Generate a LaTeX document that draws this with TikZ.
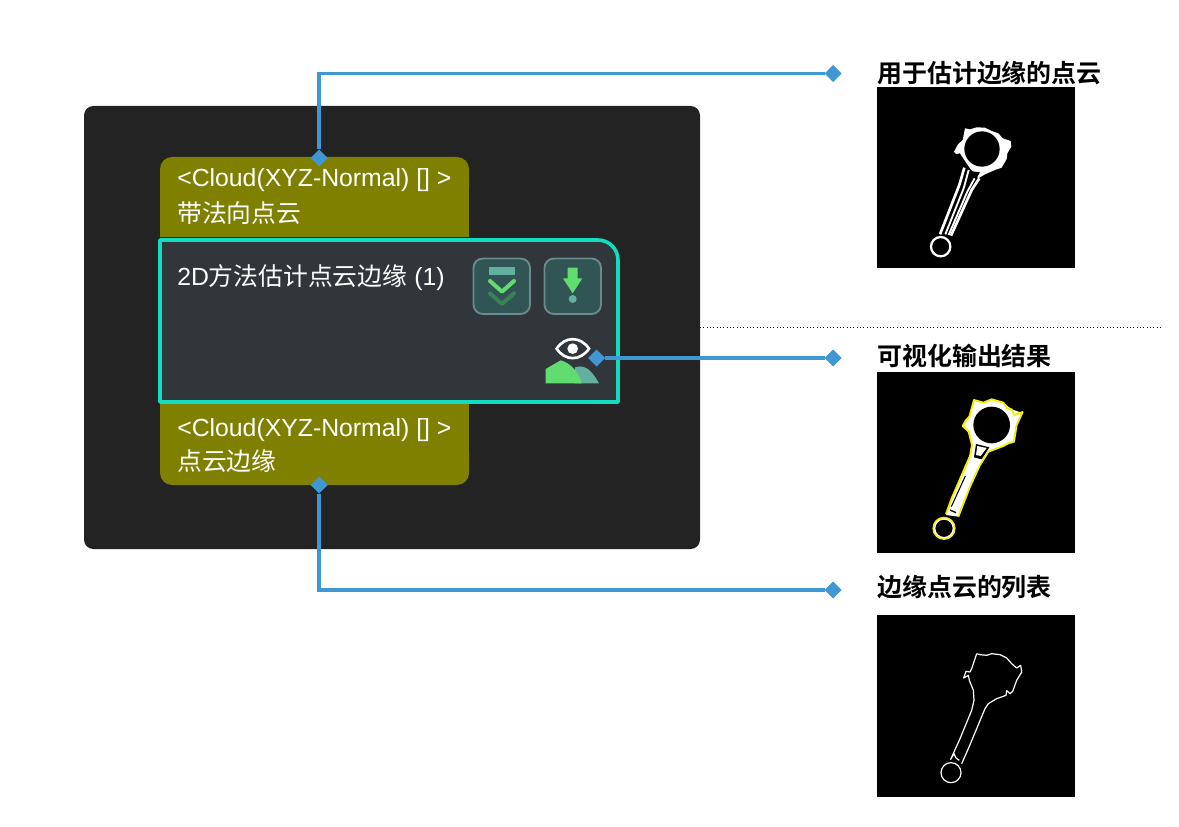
\documentclass[tikz,border=0pt]{standalone}
\usepackage{fontspec}
\setmainfont{Liberation Sans}
\newfontfamily\cjk[BoldFont={Noto Sans CJK SC Bold}]{Noto Sans CJK SC}
\usetikzlibrary{shapes.geometric,calc}
\definecolor{panel}{HTML}{232323}
\definecolor{olivebox}{HTML}{808000}
\definecolor{teal1}{HTML}{14DCC0}
\definecolor{nodebg}{HTML}{30363A}
\definecolor{wire}{HTML}{3F97D4}
\definecolor{btn}{HTML}{315555}
\definecolor{btnedge}{HTML}{6B8A8A}
\definecolor{lgreen}{HTML}{62DC6E}
\definecolor{mteal}{HTML}{62B09D}
\definecolor{dgreen}{HTML}{3C8058}
\definecolor{ylw}{HTML}{F4F000}
\tikzset{
 port/.style={diamond,fill=wire,minimum width=17pt*.75,minimum height=17pt*.75,inner sep=0pt,outer sep=0pt},
 wirel/.style={draw=wire,line width=2.5pt},
 porttext/.style={anchor=west,text=white,font=\fontsize{18.6pt}{22pt}\selectfont,inner sep=0pt},
 heading/.style={anchor=west,text=black,font=\cjk\bfseries\fontsize{18.7pt}{22pt}\selectfont,inner sep=0pt},
 btnbox/.style={fill=btn,draw=btnedge,line width=1.4pt,rounded corners=7pt},
 photo/.style={fill=black,draw=none},
 zoomed/.style={x=.25pt,y=-.25pt},
}
\begin{document}
\begin{tikzpicture}[x=.75pt,y=-.75pt]
\useasboundingbox[fill=white] (0,0) rectangle (1179,827);
% panel
\fill[panel,rounded corners=7pt] (84,106) rectangle (700,549);
% olive ports
\fill[olivebox,rounded corners=9pt] (160,157) rectangle (469,200);
\fill[olivebox] (160,180) rectangle (469,237);
\fill[olivebox,rounded corners=9pt] (160,440) rectangle (469,485);
\fill[olivebox] (160,400) rectangle (469,465);
% main node
\path[fill=nodebg,draw=teal1,line width=2.7pt,line join=round]
  (160,240) -- (598,240) arc[start angle=-90,end angle=0,radius=20] -- (618,402) -- (160,402) -- cycle;
% texts
\node[porttext] (t1) at (177,180.5) {<Cloud(XYZ-Normal) [] >};
\node[porttext] (t2) at (177,213) {\cjk 带法向点云};
\node[porttext] (t3) at (177,277.5) {2D{\cjk 方法估计点云边缘} (1)};
\node[porttext] (t4) at (177,430.5) {<Cloud(XYZ-Normal) [] >};
\node[porttext] (t5) at (177,461) {\cjk 点云边缘};
% buttons
\path[btnbox] (473.5,258.5) rectangle (530,314);
\path[btnbox] (544.5,258.5) rectangle (601,314);
\begin{scope}[shift={(440,230)},zoomed]
 \fill[mteal] (147,112) rectangle (226,135);
 \draw[lgreen,line width=3pt,line join=round,line cap=round] (150,153) -- (186,185) -- (222,153);
 \draw[dgreen,line width=3pt,line join=round,line cap=round] (150,190) -- (186,222) -- (222,190);
 \fill[lgreen] (383,113) -- (413,113) -- (413,145) -- (427,145) -- (398,190) -- (369,145) -- (383,145) -- cycle;
 \fill[mteal] (398,207) circle[radius=12];
 % eye
 \draw[white,line width=2pt] (350,356) .. controls (375,318) and (421,318) .. (447,356) .. controls (421,394) and (375,394) .. (350,356) -- cycle;
 \fill[white] (398,356) circle[radius=16];
 % hills
 \fill[mteal] (405,412) .. controls (440,400) and (460,430) .. (477,460) -- (405,460) -- cycle;
 \fill[lgreen] (317,460) -- (317,417) -- (362,391) .. controls (395,400) and (418,430) .. (425,460) -- cycle;
\end{scope}
% ports and connectors
\node[port] (pin) at (319,158) {};
\node[port] (pout) at (319,485) {};
\node[port] (pvis) at (596.5,358) {};
\node[port] (din) at (833,73.5) {};
\node[port] (dvis) at (833,358) {};
\node[port] (dout) at (833,590) {};
\draw[wirel] (pin) |- (din);
\draw[wirel] (pvis) -- (dvis);
\draw[wirel] (pout) |- (dout);
% separator
\coordinate (sepa) at (700,327);
\coordinate (sepb) at (1163,327);
\draw[black,line width=.5pt,dotted] (sepa) -- (sepb);
% headings
\node[heading] (h1) at (877,73) {用于估计边缘的点云};
\node[heading] (h2) at (877,356) {可视化输出结果};
\node[heading] (h3) at (877,587) {边缘点云的列表};
% photos
\fill[photo] (877,87) rectangle (1075,268);
\fill[photo] (877,372) rectangle (1075,553);
\fill[photo] (877,615) rectangle (1075,797);
% rod 1
\begin{scope}[shift={(870,85)},zoomed]
 \fill[white] (285,130) -- (300,133) -- (320,127) -- (345,128) -- (365,138) -- (385,145) -- (398,160) -- (422,168) -- (424,185) -- (412,205) -- (410,222) -- (395,248) -- (375,255) -- (345,268) -- (325,280) -- (300,250) -- (283,225) -- (270,205) -- (258,207) -- (252,200) -- (264,178) -- (278,165) -- cycle;
 \fill[black] (336,192) circle[radius=53];
 \fill[black] (298,258) -- (330,262) -- (318,282) -- (304,278) -- cycle;
 \draw[white,line width=2pt] (283,248) -- (268,300) -- (210,448);
 \draw[white,line width=2pt] (328,280) -- (305,315) -- (243,452);
 \draw[white,line width=1.4pt] (296,255) -- (281,310) -- (226,448);
 \draw[white,line width=1.4pt] (314,280) -- (292,320) -- (236,450);
 \draw[white,line width=1.7pt] (212,485) circle[radius=29];
\end{scope}
% rod 2
\begin{scope}[shift={(870,370)},zoomed]
 \fill[white] (312,90) -- (340,98) -- (365,88) -- (400,98) -- (425,118) -- (455,128) -- (438,165) -- (430,215) -- (400,228) -- (355,245) -- (330,285) -- (300,350) -- (265,440) -- (228,435) -- (255,360) -- (300,255) -- (305,220) -- (295,185) -- (278,168) -- (298,140) -- cycle;
 \draw[ylw,line width=1.4pt,line join=round] (228,432) -- (245,385) -- (300,258) -- (306,225) -- (296,185) -- (278,168) -- (287,152) -- (298,140) -- (312,90) -- (340,98) -- (365,88) -- (400,98) -- (412,115) -- (425,118) -- (432,135) -- (458,126) -- (440,165) -- (432,215) -- (415,220) -- (400,228) -- (355,245) -- (330,285) -- (300,350) -- (265,440);
 \fill[black] (365,165) circle[radius=55];
 \fill[black] (318,222) -- (358,232) -- (335,268) -- (312,262) -- cycle;
 \fill[white] (322,228) -- (350,234) -- (332,258) -- (318,255) -- cycle;
 \draw[black,line width=.8pt] (286,318) -- (244,410);
 \draw[black,line width=1pt] (240,420) -- (258,428);
 \draw[ylw,line width=1.4pt] (222,475) circle[radius=32];
 \draw[white,line width=1pt] (222,475) circle[radius=28];
\end{scope}
% rod 3
\begin{scope}[shift={(870,612)},zoomed]
 \draw[white,line width=.9pt,line join=round] (320,125) -- (330,128) -- (350,130) -- (365,125) -- (390,128) -- (410,138) -- (425,155) -- (440,168) -- (452,160) -- (455,180) -- (440,205) -- (428,238) -- (420,245) -- (410,236) -- (408,250) -- (380,260) -- (355,275) -- (345,290) -- (320,350) -- (295,410) -- (275,455);
 \draw[white,line width=.9pt,line join=round] (320,125) -- (305,170) -- (300,180) -- (288,178) -- (281,198) -- (295,190) -- (298,205) -- (310,235) -- (312,265) -- (305,295) -- (270,380) -- (242,442) -- (252,425) -- (258,438) -- (268,445);
 \draw[white,line width=.9pt] (243,482) circle[radius=30];
\end{scope}
\end{tikzpicture}
\end{document}
